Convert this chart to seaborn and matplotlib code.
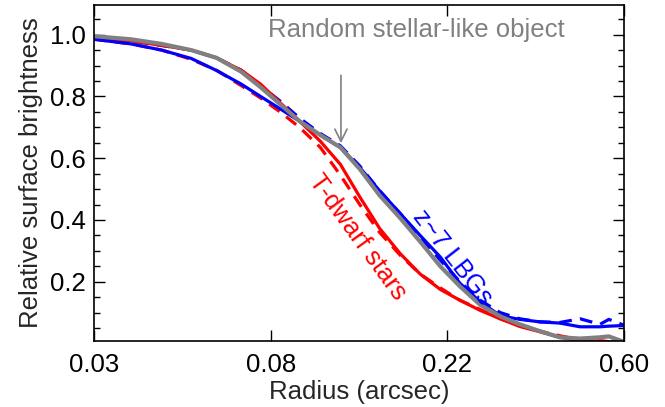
import numpy as np
import pandas as pd
import matplotlib
matplotlib.use("Agg")
import matplotlib.pyplot as plt
import seaborn as sns

# ---- data ----
radius = [0.030, 0.037, 0.044, 0.052, 0.060, 0.069, 0.077, 0.086, 0.096, 0.108,
          0.121, 0.135, 0.151, 0.170, 0.190, 0.213, 0.238, 0.267, 0.299, 0.334,
          0.374, 0.419, 0.470, 0.526, 0.553, 0.600]

lbg_solid = [0.985, 0.970, 0.950, 0.923, 0.884, 0.840, 0.800, 0.760, 0.720, 0.675,
             0.635, 0.570, 0.495, 0.420, 0.350, 0.280, 0.195, 0.135, 0.090, 0.078,
             0.070, 0.066, 0.054, 0.054, 0.056, 0.058]
lbg_dashed = [0.990, 0.980, 0.965, 0.950, 0.925, 0.885, 0.835, 0.785, 0.730, 0.680,
              0.640, 0.575, 0.495, 0.420, 0.345, 0.270, 0.200, 0.140, 0.100, 0.080,
              0.070, 0.068, 0.080, 0.062, 0.078, 0.060]
tdw_solid = [0.990, 0.980, 0.965, 0.950, 0.925, 0.885, 0.840, 0.780, 0.720, 0.655,
             0.580, 0.475, 0.373, 0.290, 0.225, 0.175, 0.140, 0.107, 0.080, 0.055,
             0.038, 0.020, 0.008, 0.008, 0.006, 0.005]
tdw_dashed = [0.985, 0.970, 0.950, 0.920, 0.885, 0.835, 0.795, 0.750, 0.700, 0.635,
              0.545, 0.450, 0.360, 0.285, 0.225, 0.180, 0.140, 0.110, 0.080, 0.057,
              0.040, 0.025, 0.012, 0.008, 0.006, 0.005]
random_obj = [0.995, 0.985, 0.970, 0.950, 0.925, 0.880, 0.830, 0.775, 0.720, 0.675,
              0.635, 0.565, 0.480, 0.405, 0.330, 0.250, 0.185, 0.125, 0.088, 0.062,
              0.040, 0.020, 0.016, 0.020, 0.023, 0.006]

xtick_values = [0.03, 0.03 * np.e, 0.03 * np.e ** 2, 0.03 * np.e ** 3]
xtick_labels = ["0.03", "0.08", "0.22", "0.60"]
ytick_values = [0.2, 0.4, 0.6, 0.8, 1.0]
ytick_labels = ["0.2", "0.4", "0.6", "0.8", "1.0"]

series = {
    "LBG solid": lbg_solid,
    "LBG dashed": lbg_dashed,
    "T solid": tdw_solid,
    "T dashed": tdw_dashed,
    "Random": random_obj,
}
df = pd.concat(
    [pd.DataFrame({"radius": radius, "sb": v, "series": k}) for k, v in series.items()],
    ignore_index=True,
)

# ---- style ----
sns.set_style("ticks")
plt.rcParams["font.family"] = ["Liberation Sans", "DejaVu Sans"]
FS = 18.5
plt.rcParams["font.size"] = FS

fig = plt.figure(figsize=(6.65, 4.07), dpi=100)
ax = fig.add_axes([94 / 665, 1 - 341 / 407, (624 - 94) / 665, (341 - 5) / 407])

styles = {
    "T dashed": dict(color="#ff0000", lw=2.3, ls=(0, (4, 2.6))),
    "LBG dashed": dict(color="#0000ff", lw=2.3, ls=(0, (4, 2.6))),
    "T solid": dict(color="#ff0000", lw=2.3, ls="-"),
    "LBG solid": dict(color="#0000ff", lw=2.3, ls="-"),
    "Random": dict(color="#808080", lw=3.0, ls="-"),
}
for name in ["T dashed", "LBG dashed", "T solid", "LBG solid", "Random"]:
    st = styles[name]
    sns.lineplot(data=df[df["series"] == name], x="radius", y="sb", ax=ax,
                 color=st["color"], linewidth=st["lw"], linestyle=st["ls"],
                 legend=False, sort=False)

ax.set_xscale("log")
ax.set_xlim(0.03, 0.03 * np.e ** 3)
ax.set_ylim(0.008, 1.096)
ax.set_xticks(xtick_values)
ax.set_xticklabels(xtick_labels)
ax.xaxis.set_minor_locator(matplotlib.ticker.NullLocator())
ax.set_yticks(ytick_values)
ax.set_yticklabels(ytick_labels)
ax.yaxis.set_minor_locator(matplotlib.ticker.MultipleLocator(0.05))

ax.tick_params(which="both", direction="in", top=True, right=True, width=1.0,
               colors="black", labelsize=FS)
ax.tick_params(which="major", length=8)
ax.tick_params(which="minor", length=4.5)
ax.tick_params(axis="x", which="major", pad=9)
ax.tick_params(axis="y", which="major", pad=6)
for s in ax.spines.values():
    s.set_linewidth(1.2)
    s.set_color("black")

ax.set_xlabel("Radius (arcsec)", fontsize=FS, labelpad=2)
ax.set_ylabel("Relative surface brightness", fontsize=FS, labelpad=5)

# annotations
ax.text((416 - 94) / 530, 1.0 - (57 - 34.3) / 307, "Random stellar-like object",
        color="#808080", fontsize=FS, transform=ax.transAxes, ha="center", va="center")
ax.annotate("", xy=(0.03 * np.exp((341 - 94) / 176.7), 1.0 - (145 - 34.3) / 307),
            xytext=(0.03 * np.exp((341 - 94) / 176.7), 1.0 - (72 - 34.3) / 307),
            arrowprops=dict(arrowstyle="->", color="#808080", lw=1.2,
                            mutation_scale=22))
ax.text(0.03 * np.exp((357 - 94) / 176.7), 1.0 - (236 - 34.3) / 307, "T-dwarf stars",
        color="#ff0000", fontsize=FS, rotation=-54, ha="center", va="center",
        rotation_mode="anchor")
ax.text(0.03 * np.exp((453 - 94) / 176.7), 1.0 - (256 - 34.3) / 307, "z~7 LBGs",
        color="#0000ff", fontsize=FS, rotation=-52, ha="center", va="center",
        rotation_mode="anchor")

fig.savefig("out.png", dpi=100)
